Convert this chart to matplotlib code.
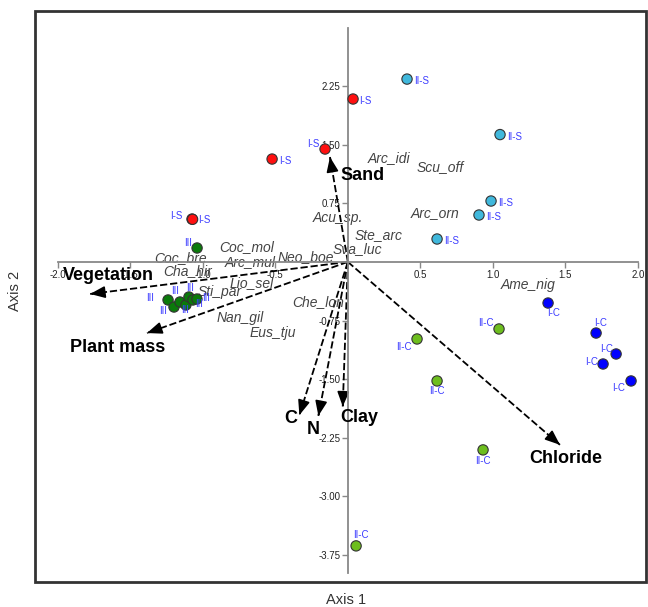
"""
排序双标图 — 样点、物种与环境因子
"""

import matplotlib
matplotlib.use('Agg')
import matplotlib.pyplot as plt
from matplotlib.patches import Rectangle

plt.rcParams['font.family'] = ['Liberation Sans', 'DejaVu Sans']

# 样点得分
site_x = [0.036, -0.157, -0.522, -1.074, -1.070,
          0.408, 1.049, 0.987, 0.904, 0.615,
          -1.039, -1.239, -1.198, -1.157, -1.116, -1.095, -1.068, -1.040,
          0.477, 1.042, 0.615, 0.932, 0.057,
          1.380, 1.711, 1.849, 1.759, 1.952]
site_y = [2.084, 1.444, 1.316, 0.548, 0.545,
          2.339, 1.629, 0.779, 0.600, 0.293,
          0.178, -0.487, -0.577, -0.513, -0.551, -0.449, -0.487, -0.475,
          -0.986, -0.858, -1.523, -2.405, -3.633,
          -0.526, -0.910, -1.178, -1.306, -1.523]
site_grp = ['I-S'] * 5 + ['II-S'] * 5 + ['III'] * 8 + ['II-C'] * 5 + ['I-C'] * 5

# 物种得分
species = ['Arc_idi', 'Scu_off', 'Acu_sp.', 'Arc_orn', 'Ste_arc', 'Sva_luc',
           'Coc_mol', 'Neo_boe', 'Coc_bre', 'Arc_mul', 'Cha_hir', 'Lio_sel',
           'Sti_par', 'Che_lon', 'Nan_gil', 'Eus_tju', 'Ame_nig']
sp_x = [0.285, 0.636, -0.067, 0.601, 0.215, 0.063,
        -0.695, -0.288, -1.155, -0.674, -1.102, -0.660,
        -0.881, -0.205, -0.743, -0.516, 1.240]
sp_y = [1.33, 1.21, 0.56, 0.63, 0.34, 0.17,
        0.19, 0.06, 0.05, 0.0, -0.115, -0.27,
        -0.38, -0.51, -0.715, -0.91, -0.29]

# 环境因子向量
env = ['Sand', 'Vegetation', 'Plant mass', 'C', 'N', 'Clay', 'Chloride']
env_x = [-0.123, -1.776, -1.384, -0.334, -0.203, -0.035, 1.462]
env_y = [1.342, -0.41, -0.91, -1.96, -1.97, -1.85, -2.34]

X_TICKS = [-2.0, -1.5, -1.0, -0.5, 0.5, 1.0, 1.5, 2.0]
Y_TICKS = [2.25, 1.50, 0.75, -0.75, -1.50, -2.25, -3.00, -3.75]

GROUP_COLORS = {'I-S': '#ff1010', 'II-S': '#40b8dc', 'III': '#0b7a0b',
                'II-C': '#6dbe1e', 'I-C': '#0000ff'}

# 标签偏移（像素，右/下为正）
site_lab_off = [(12, 2), (-12, -5), (13, 2), (-16, -3), (12, 1),
                (15, 2), (15, 2), (15, 2), (15, 2), (15, 2),
                (-9, -5), (-18, -2), (-11, 4), (-5, -11), (-1, 5), (1, -9), (6, 4), (9, -1),
                (-13, 8), (-13, -6), (0, 10), (0, 11), (5, -11),
                (6, 10), (4, -10), (-10, -5), (-11, -2), (-12, 7)]
env_lab_off = [(33, 18), (18, -18), (-29, 14), (-9, 3), (-5, 14), (17, 11), (6, 14)]
PX = 72 / 100

fig = plt.figure(figsize=(6.48, 6.07), dpi=100)
ax = fig.add_axes([35 / 648, 1 - 582 / 607, 611 / 648, 571 / 607])
ax.set_xlim(-2.156, 2.055)
ax.set_ylim(-4.095, 3.210)

# 十字坐标轴
for side in ['top', 'right']:
    ax.spines[side].set_visible(False)
ax.spines['left'].set_position(('data', 0))
ax.spines['bottom'].set_position(('data', 0))
ax.spines['left'].set_bounds(-3.98, 2.99)
ax.spines['bottom'].set_bounds(-2.0, 2.0)
for side in ['left', 'bottom']:
    ax.spines[side].set_color('#888888')
    ax.spines[side].set_linewidth(1.3)
ax.set_xticks(X_TICKS)
ax.set_xticklabels([f'{t:.1f}' for t in X_TICKS])
ax.set_yticks(Y_TICKS)
ax.set_yticklabels([f'{t:.2f}' for t in Y_TICKS])
ax.tick_params(direction='out', length=4, width=1, color='#888888',
               labelsize=7, labelcolor='#222222', pad=1.5)

# 外框
ax.add_patch(Rectangle((0, 0), 1, 1, transform=ax.transAxes, fill=False,
                       lw=2, ec='#333333', clip_on=False, zorder=5))

# 环境因子箭头
for name, x, y, (dx, dy) in zip(env, env_x, env_y, env_lab_off):
    ax.plot([0, x], [0, y], ls=(0, (4, 1.6)), lw=1.3, color='black', zorder=2)
    ax.annotate('', xy=(x, y), xytext=(x * 0.99, y * 0.99),
                arrowprops=dict(arrowstyle='-|>,head_length=0.5,head_width=0.2',
                                color='black', lw=1.2, mutation_scale=18,
                                shrinkA=0, shrinkB=0), zorder=2)
    ax.annotate(name, xy=(x, y), xytext=(dx * PX, -dy * PX), textcoords='offset points',
                ha='center', va='center', fontsize=13, fontweight='bold', color='black')

# 物种
for name, x, y in zip(species, sp_x, sp_y):
    ax.text(x, y, name, ha='center', va='center', style='italic',
            fontsize=10, color='#444444', zorder=2.5)

# 样点
ax.scatter(site_x, site_y, s=55, c=[GROUP_COLORS[g] for g in site_grp],
           edgecolors='#333333', linewidths=0.8, zorder=3)
for x, y, g, (dx, dy) in zip(site_x, site_y, site_grp, site_lab_off):
    ax.annotate(g, xy=(x, y), xytext=(dx * PX, -dy * PX), textcoords='offset points',
                ha='center', va='center', fontsize=7, color='#3c3cff', zorder=4)

fig.text(346 / 648, 1 - 600 / 607, 'Axis 1', ha='center', va='center',
         fontsize=10.5, color='#333333')
fig.text(15 / 648, 1 - 291 / 607, 'Axis 2', ha='center', va='center',
         rotation=90, fontsize=10.5, color='#333333')

fig.savefig('out.png', dpi=100)
